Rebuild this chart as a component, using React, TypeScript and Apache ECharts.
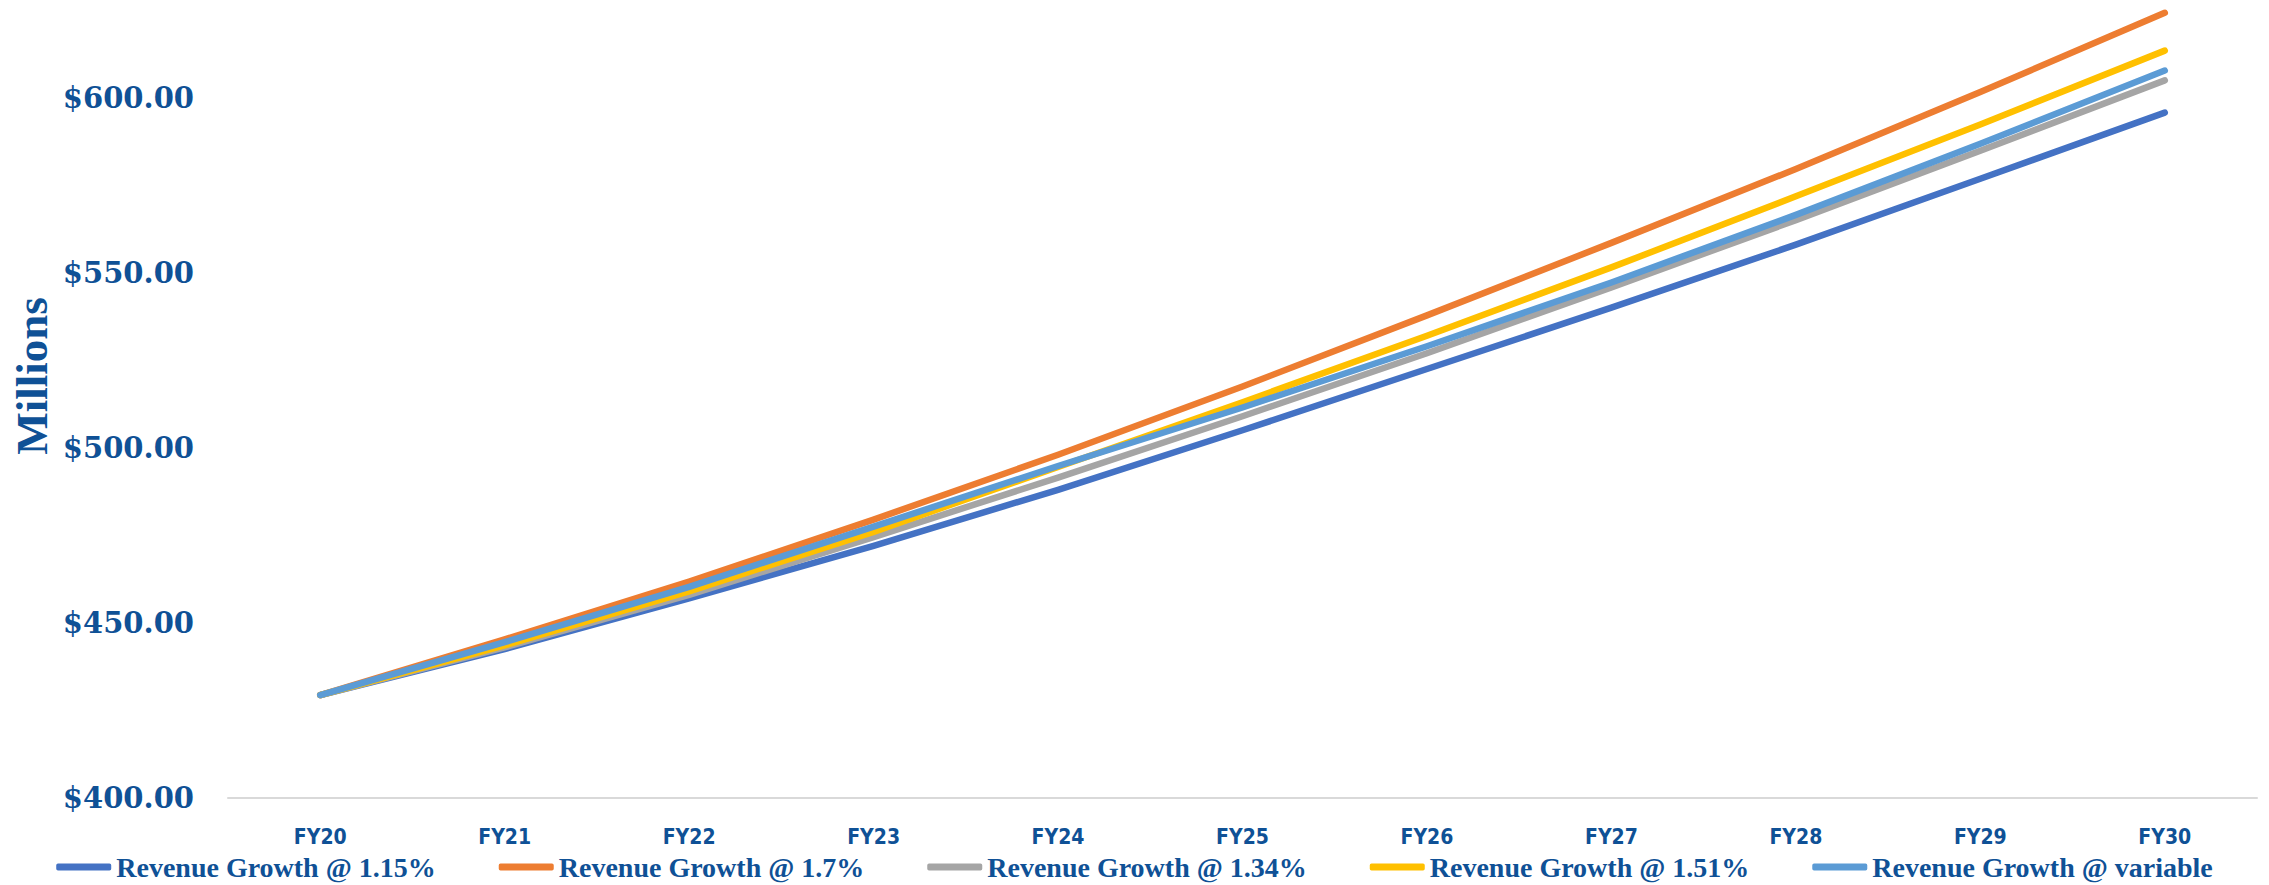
import React, { useEffect, useRef } from "react";
import * as echarts from "echarts";

const categories = ["FY20", "FY21", "FY22", "FY23", "FY24", "FY25", "FY26", "FY27", "FY28", "FY29", "FY30"];
const growth115 = [429.4, 442.5, 457.0, 472.0, 488.0, 505.0, 522.5, 540.0, 558.0, 576.8, 595.7];
const growth17 = [429.4, 445.3, 461.8, 479.5, 498.0, 517.5, 537.8, 558.5, 579.6, 601.6, 624.2];
const growth134 = [429.4, 443.0, 458.0, 474.5, 491.5, 509.0, 527.0, 545.8, 565.0, 584.8, 604.9];
const growth151 = [429.4, 443.6, 459.0, 476.0, 494.5, 513.0, 532.0, 551.5, 571.8, 592.3, 613.4];
const growthVariable = [429.4, 444.5, 460.3, 477.5, 494.8, 511.5, 529.0, 547.2, 566.5, 586.8, 607.7];

const seriesNames = [
  "Revenue Growth @ 1.15%",
  "Revenue Growth @ 1.7%",
  "Revenue Growth @ 1.34%",
  "Revenue Growth @ 1.51%",
  "Revenue Growth @ variable",
];
const seriesData = [growth115, growth17, growth134, growth151, growthVariable];
const seriesColors = ["#4472C4", "#ED7D31", "#A5A5A5", "#FFC000", "#5B9BD5"];

const TEXT_COLOR = "#0F5196";

export default function App() {
  const ref = useRef<HTMLDivElement>(null);

  useEffect(() => {
    document.body.style.margin = "0";
    if (!ref.current) return;
    const chart = echarts.init(ref.current, undefined, { renderer: "svg" });
    chart.setOption({
      animation: false,
      backgroundColor: "#ffffff",
      grid: { left: 228, right: 12, top: 10, bottom: 87, containLabel: false },
      legend: {
        data: seriesNames,
        left: "center",
        top: 848,
        icon: "roundRect",
        itemWidth: 55,
        itemHeight: 7,
        itemGap: 63,
        textStyle: {
          color: TEXT_COLOR,
          fontFamily: "'Liberation Serif', serif",
          fontWeight: "bold",
          fontSize: 28,
          lineHeight: 28,
        },
      },
      xAxis: {
        type: "category",
        data: categories,
        boundaryGap: true,
        axisTick: { show: false },
        axisLine: { show: true, lineStyle: { color: "#D9D9D9", width: 2 } },
        axisLabel: {
          color: TEXT_COLOR,
          fontFamily: "'DejaVu Sans Condensed', 'DejaVu Sans', sans-serif",
          fontWeight: "bold",
          fontSize: 21,
          margin: 28,
        },
        splitLine: { show: false },
      },
      yAxis: {
        type: "value",
        min: 400,
        max: 625,
        interval: 50,
        axisLine: { show: false },
        axisTick: { show: false },
        splitLine: { show: false },
        axisLabel: {
          showMaxLabel: false,
          color: TEXT_COLOR,
          fontFamily: "'DejaVu Serif', serif",
          fontWeight: "bold",
          fontSize: 29,
          margin: 34,
          formatter: (v: number) => "$" + v.toFixed(2),
        },
      },
      graphic: [
        {
          type: "text",
          x: 32,
          y: 376,
          rotation: Math.PI / 2,
          style: {
            text: "Millions",
            fill: TEXT_COLOR,
            font: "bold 45px 'Liberation Serif', serif",
            align: "center",
            verticalAlign: "middle",
          },
        },
      ],
      series: seriesNames.map((name, i) => ({
        name,
        type: "line",
        data: seriesData[i],
        symbol: "none",
        showSymbol: false,
        itemStyle: { color: seriesColors[i] },
        lineStyle: { color: seriesColors[i], width: 6.5, cap: "round", join: "round" },
      })),
    });
    return () => chart.dispose();
  }, []);

  return (
    <div
      ref={ref}
      style={{ position: "fixed", left: 0, top: 0, width: 2269, height: 885 }}
    />
  );
}
